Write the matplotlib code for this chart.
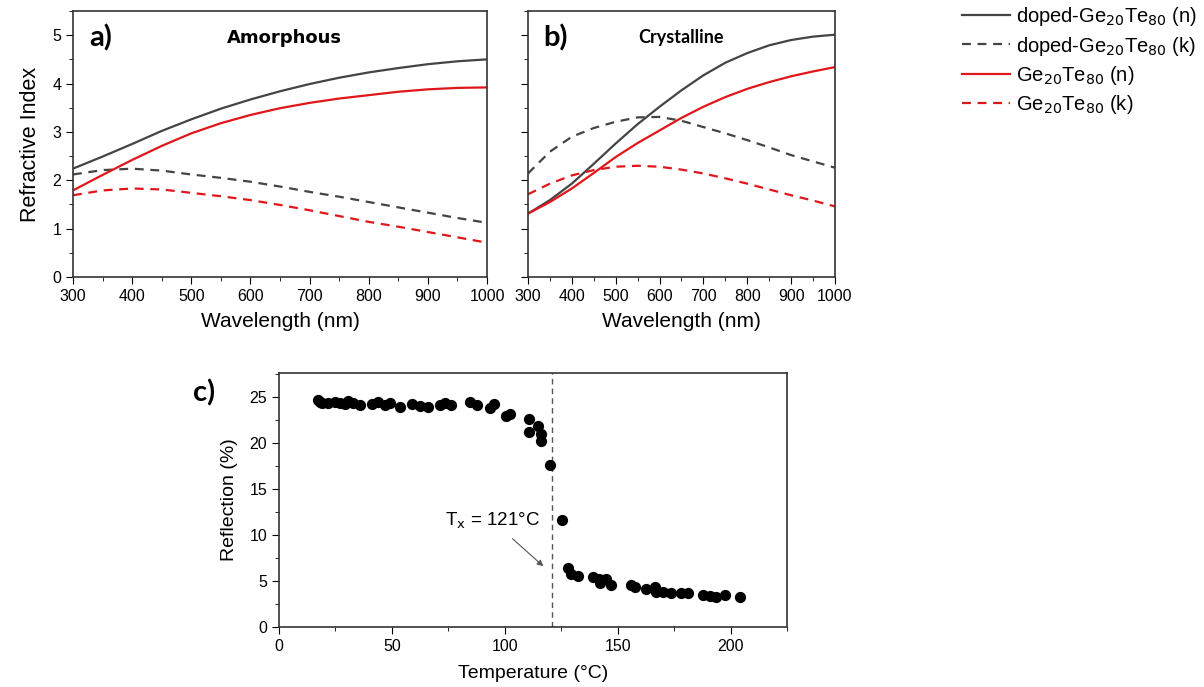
import matplotlib
matplotlib.use('Agg')
import matplotlib.pyplot as plt
from matplotlib.ticker import MultipleLocator

plt.rcParams['font.family'] = ['Liberation Sans', 'DejaVu Sans']
plt.rcParams['font.size'] = 11

# wavelength grid (nm)
wl = [300, 350, 400, 450, 500, 550, 600, 650, 700, 750, 800, 850, 900, 950, 1000]

# a) amorphous
am_doped_n = [2.24, 2.49, 2.75, 3.02, 3.26, 3.48, 3.67, 3.84, 3.99, 4.12, 4.23, 4.32, 4.40, 4.46, 4.50]
am_doped_k = [2.12, 2.21, 2.24, 2.20, 2.12, 2.05, 1.97, 1.87, 1.76, 1.66, 1.55, 1.44, 1.33, 1.22, 1.12]
am_n = [1.79, 2.11, 2.42, 2.71, 2.97, 3.18, 3.35, 3.49, 3.60, 3.69, 3.76, 3.83, 3.88, 3.91, 3.92]
am_k = [1.69, 1.79, 1.83, 1.81, 1.74, 1.67, 1.59, 1.49, 1.38, 1.26, 1.14, 1.04, 0.93, 0.82, 0.71]

# b) crystalline
cr_doped_n = [1.31, 1.59, 1.93, 2.34, 2.76, 3.16, 3.52, 3.86, 4.17, 4.43, 4.63, 4.79, 4.90, 4.97, 5.01]
cr_doped_k = [2.14, 2.59, 2.90, 3.08, 3.21, 3.30, 3.31, 3.23, 3.10, 2.97, 2.83, 2.68, 2.52, 2.39, 2.26]
cr_n = [1.31, 1.55, 1.83, 2.15, 2.48, 2.77, 3.03, 3.29, 3.52, 3.72, 3.89, 4.03, 4.15, 4.25, 4.34]
cr_k = [1.71, 1.93, 2.10, 2.21, 2.28, 2.30, 2.28, 2.22, 2.14, 2.04, 1.93, 1.81, 1.69, 1.58, 1.46]

# c) reflection vs temperature
temp = [17.4, 18.3, 19.2, 21.8, 24.8, 27.0, 29.2, 30.7, 32.9, 35.8, 41.0, 44.0, 47.0, 49.1, 53.5,
        59.1, 62.4, 66.0, 71.5, 73.5, 76.4, 84.5, 87.5, 93.4, 95.1, 100.7, 102.2, 110.8, 110.8,
        114.7, 116.2, 116.2, 120.2, 125.3, 128.0, 129.5, 132.5, 139.1, 141.7, 142.0, 145.0, 147.2,
        156.0, 157.5, 162.7, 166.4, 166.8, 170.0, 173.8, 178.2, 181.1, 187.8, 190.7, 193.7, 197.3, 204.0]
refl = [24.7, 24.5, 24.3, 24.3, 24.4, 24.3, 24.2, 24.6, 24.3, 24.1, 24.2, 24.4, 24.1, 24.3, 23.9,
        24.2, 24.0, 23.9, 24.1, 24.3, 24.1, 24.5, 24.1, 23.8, 24.2, 22.9, 23.2, 22.6, 21.2,
        21.8, 21.0, 20.2, 17.6, 11.6, 6.4, 5.8, 5.55, 5.4, 5.2, 4.75, 5.2, 4.57,
        4.57, 4.3, 4.1, 4.3, 3.84, 3.84, 3.73, 3.66, 3.66, 3.48, 3.37, 3.3, 3.48, 3.3]
tx = 121

grey = '#444444'
red = '#e0161b'

fig = plt.figure(figsize=(12.04, 6.87), dpi=100)
ax_a = fig.add_axes([0.0606, 0.5968, 0.3439, 0.3872])
ax_b = fig.add_axes([0.4385, 0.5968, 0.2550, 0.3872])
ax_c = fig.add_axes([0.2317, 0.0873, 0.4220, 0.3697])


def style(ax):
    ax.tick_params(which='both', direction='out', top=False, right=False, labelsize=11.5)
    ax.tick_params(which='major', length=5)
    ax.tick_params(which='minor', length=3)
    for s in ax.spines.values():
        s.set_color('#333333')
        s.set_linewidth(1.2)


for ax, dn, dk, n, k in [(ax_a, am_doped_n, am_doped_k, am_n, am_k),
                         (ax_b, cr_doped_n, cr_doped_k, cr_n, cr_k)]:
    ax.plot(wl, dn, color=grey, lw=1.6, label='doped-Ge$_{20}$Te$_{80}$ (n)')
    ax.plot(wl, dk, color=grey, lw=1.6, dashes=(4, 3), label='doped-Ge$_{20}$Te$_{80}$ (k)')
    ax.plot(wl, n, color=red, lw=1.6, label='Ge$_{20}$Te$_{80}$ (n)')
    ax.plot(wl, k, color=red, lw=1.6, dashes=(4, 3), label='Ge$_{20}$Te$_{80}$ (k)')
    ax.set_xlim(300, 1000)
    ax.set_ylim(0, 5.5)
    ax.xaxis.set_major_locator(MultipleLocator(100))
    ax.xaxis.set_minor_locator(MultipleLocator(50))
    ax.yaxis.set_major_locator(MultipleLocator(1))
    ax.yaxis.set_minor_locator(MultipleLocator(0.5))
    ax.set_xlabel('Wavelength (nm)', fontsize=15, labelpad=6)
    style(ax)

ax_a.set_ylabel('Refractive Index', fontsize=15.5, labelpad=8)
ax_b.tick_params(axis='y', labelleft=False)

ax_a.text(0.04, 0.90, 'a)', transform=ax_a.transAxes, fontsize=21, fontweight='bold',
          family=['Lato', 'DejaVu Sans'], va='center')
ax_a.text(0.51, 0.90, 'Amorphous', transform=ax_a.transAxes, fontsize=13, fontweight='bold',
          family=['DejaVu Sans'], ha='center', va='center')
ax_b.text(0.05, 0.90, 'b)', transform=ax_b.transAxes, fontsize=21, fontweight='bold',
          family=['Lato', 'DejaVu Sans'], va='center')
ax_b.text(0.50, 0.90, 'Crystalline', transform=ax_b.transAxes, fontsize=13, fontweight='bold',
          family=['Lato', 'DejaVu Sans'], ha='center', va='center')

handles, labels = ax_b.get_legend_handles_labels()
fig.legend(handles, labels, loc='upper left', bbox_to_anchor=(0.799, 0.992), frameon=False,
           fontsize=14.5, handlelength=2.4, handletextpad=0.3, labelspacing=0.3,
           borderaxespad=0, borderpad=0)

# c)
ax_c.scatter(temp, refl, s=50, color='black', zorder=3)
ax_c.axvline(tx, color='#555555', lw=1.0, dashes=(4, 3))
ax_c.annotate('', xy=(118, 6.4), xytext=(102.5, 9.8),
              arrowprops=dict(arrowstyle='-|>', color='#555555', lw=0.8, mutation_scale=9))
ax_c.text(73.5, 11.5, 'T$_\\mathrm{x}$ = 121°C', fontsize=13.5, va='center')
ax_c.set_xlim(0, 225)
ax_c.set_ylim(0, 27.6)
ax_c.xaxis.set_major_locator(MultipleLocator(50))
ax_c.xaxis.set_minor_locator(MultipleLocator(25))
ax_c.yaxis.set_major_locator(MultipleLocator(5))
ax_c.yaxis.set_minor_locator(MultipleLocator(2.5))
ax_c.set_xlabel('Temperature (°C)', fontsize=14, labelpad=8)
ax_c.set_ylabel('Reflection (%)', fontsize=14, labelpad=8)
style(ax_c)
ax_c.text(-0.17, 0.92, 'c)', transform=ax_c.transAxes, fontsize=21, fontweight='bold',
          family=['Lato', 'DejaVu Sans'], va='center')

fig.savefig('out.png', dpi=100)
